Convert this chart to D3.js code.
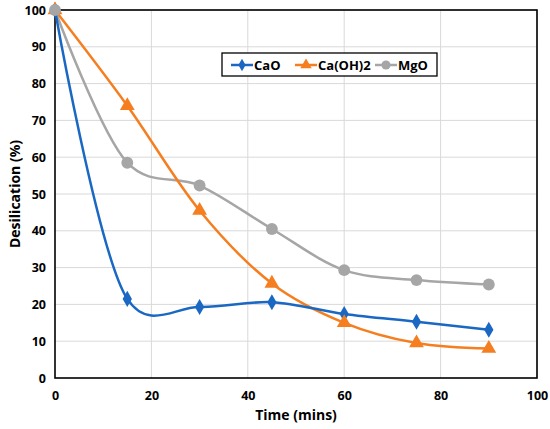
<!DOCTYPE html>
<html><head><meta charset="utf-8">
<script src="https://cdn.jsdelivr.net/npm/d3@7"></script>
<style>body{margin:0;background:#fff}text{font-family:"Open Sans","Noto Sans",sans-serif;font-weight:700}</style>
</head><body><svg id="c" width="550" height="429"></svg>
<script>
const times = [0, 15, 30, 45, 60, 75, 90];
const cao = [100, 21.5, 19.3, 20.6, 17.4, 15.3, 13.1];
const caoh2 = [100, 74, 45.5, 25.7, 15, 9.5, 8];
const mgo = [100, 58.5, 52.3, 40.5, 29.3, 26.6, 25.4];
const xTicks = [0, 20, 40, 60, 80, 100];
const yTicks = [0, 10, 20, 30, 40, 50, 60, 70, 80, 90, 100];
const seriesNames = ["CaO", "Ca(OH)2", "MgO"];

const svg = d3.select("#c");
const L = 55, R = 537, T = 10, B = 378;
const x = d3.scaleLinear().domain([0, 100]).range([L, R]);
const y = d3.scaleLinear().domain([0, 100]).range([B, T]);

// grid
svg.append("g").selectAll("line").data(yTicks.slice(1)).join("line")
  .attr("x1", L).attr("x2", R).attr("y1", d => y(d)).attr("y2", d => y(d))
  .attr("stroke", "#d9d9d9").attr("stroke-width", 1);
svg.append("g").selectAll("line").data(xTicks.slice(1)).join("line")
  .attr("y1", T).attr("y2", B).attr("x1", d => x(d)).attr("x2", d => x(d))
  .attr("stroke", "#d9d9d9").attr("stroke-width", 1);

// axes
const xa = svg.append("g").attr("transform", `translate(0,${B})`)
  .call(d3.axisBottom(x).tickValues(xTicks).tickSize(0).tickPadding(13));
const ya = svg.append("g").attr("transform", `translate(${L},0)`)
  .call(d3.axisLeft(y).tickValues(yTicks).tickSize(0).tickPadding(9));
[xa, ya].forEach(a => { a.select(".domain").remove(); a.selectAll("text").attr("font-size", 12.5).attr("fill", "#000").style("font-family", '"Open Sans",sans-serif').style("font-weight", 700); });

svg.append("rect").attr("x", L).attr("y", T).attr("width", R - L).attr("height", B - T)
  .attr("fill", "none").attr("stroke", "#000").attr("stroke-width", 1.6);

svg.append("text").attr("x", (L + R) / 2).attr("y", 420).attr("text-anchor", "middle")
  .attr("font-size", 14).text("Time (mins)");
svg.append("text").attr("transform", `translate(20,${(T + B) / 2}) rotate(-90)`)
  .attr("text-anchor", "middle").attr("font-size", 14).text("Desilication (%)");

const colors = ["#1a68c3", "#f57f20", "#a6a6a6"];
const data = [cao, caoh2, mgo];
const line = d3.line().x((d, i) => x(times[i])).y(d => y(d)).curve(d3.curveCatmullRom.alpha(0.2));

const sym = [d3.symbolDiamond, d3.symbolTriangle, d3.symbolCircle];
const sizes = [75, 95, 110];

[2, 1, 0].forEach(k => {
  svg.append("path").datum(data[k]).attr("d", line).attr("fill", "none")
    .attr("stroke", colors[k]).attr("stroke-width", 2.5);
});
[0, 1, 2].forEach(k => {
  svg.append("g").selectAll("path").data(data[k]).join("path")
    .attr("transform", (d, i) => `translate(${x(times[i])},${y(d)})`)
    .attr("d", d3.symbol().type(sym[k]).size(sizes[k])).attr("fill", colors[k]);
});

// legend
const lg = svg.append("g");
lg.append("rect").attr("x", 222).attr("y", 53).attr("width", 215).attr("height", 23)
  .attr("fill", "#fff").attr("stroke", "#000").attr("stroke-width", 1.3);
const lx = [231, 295, 375];
seriesNames.forEach((n, k) => {
  lg.append("line").attr("x1", lx[k]).attr("x2", lx[k] + 22).attr("y1", 65).attr("y2", 65)
    .attr("stroke", colors[k]).attr("stroke-width", 2.5);
  lg.append("path").attr("transform", `translate(${lx[k] + 11},65)`)
    .attr("d", d3.symbol().type(sym[k]).size(sizes[k] * 0.6)).attr("fill", colors[k]);
  lg.append("text").attr("x", lx[k] + 23).attr("y", 70).attr("font-size", 13).text(n);
});
</script></body></html>
